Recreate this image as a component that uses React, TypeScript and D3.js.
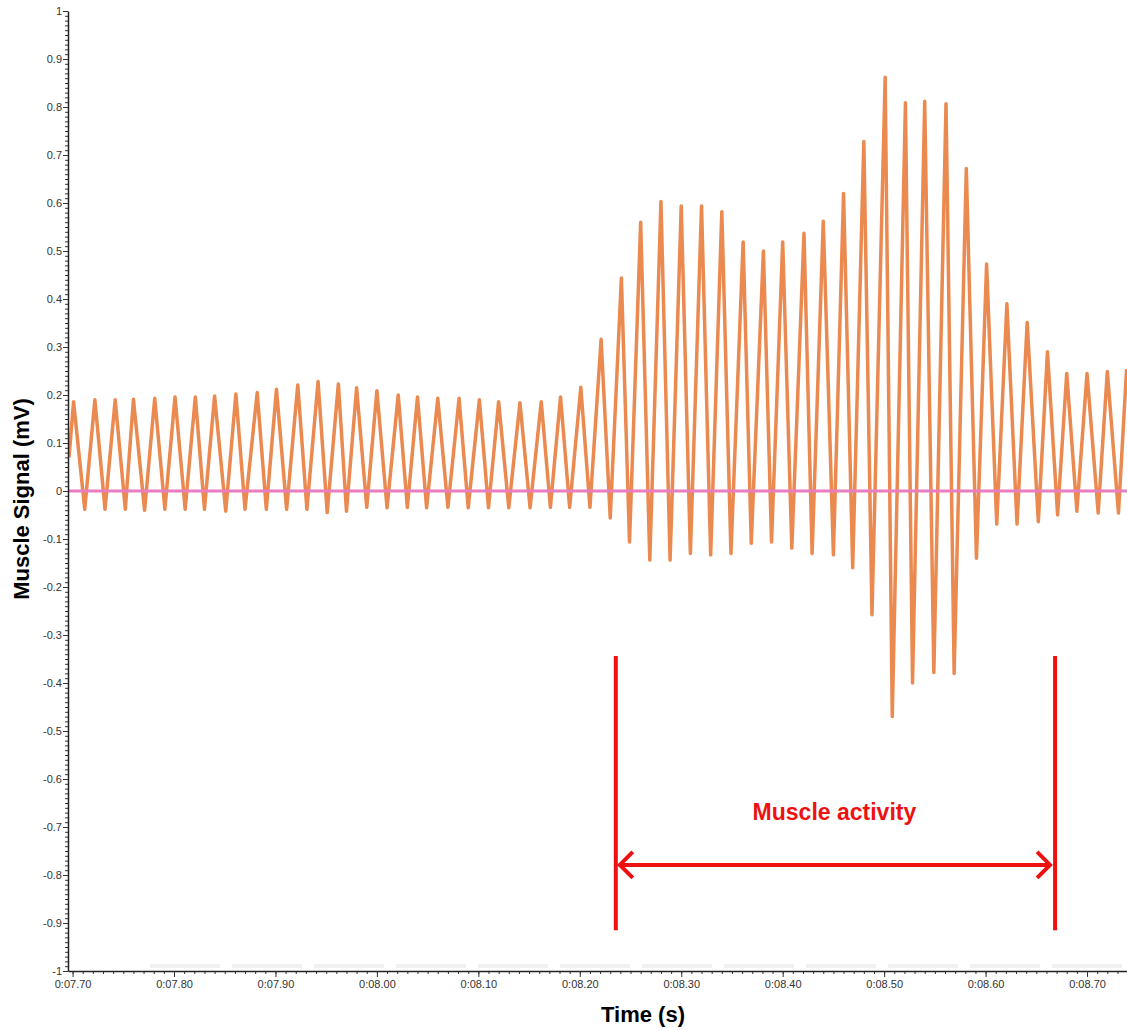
import React, { useEffect, useRef } from 'react';
import * as d3 from 'd3';

const W = 1127;
const H = 1031;

// time of each peak / trough of the trace (s) and its value (mV)
const peakTimes = [
  7.701, 7.722, 7.742, 7.760, 7.781, 7.801, 7.821, 7.840, 7.861, 7.882, 7.901, 7.922, 7.942, 7.962, 7.980,
  8.000, 8.021, 8.040, 8.060, 8.081, 8.101, 8.120, 8.141, 8.162, 8.181,
  8.201, 8.221, 8.241, 8.260, 8.280, 8.300, 8.320, 8.340, 8.361, 8.381,
  8.400, 8.421, 8.440, 8.460, 8.480, 8.501, 8.521, 8.540, 8.561, 8.581,
  8.601, 8.621, 8.641, 8.661, 8.680, 8.700, 8.720, 8.739,
];
const peakValues = [
  0.186, 0.19, 0.19, 0.191, 0.193, 0.196, 0.196, 0.198, 0.202, 0.205, 0.212, 0.221, 0.228, 0.223, 0.215,
  0.209, 0.2, 0.196, 0.193, 0.193, 0.19, 0.186, 0.184, 0.186, 0.196,
  0.216, 0.316, 0.444, 0.56, 0.603, 0.594, 0.594, 0.582, 0.519, 0.5,
  0.519, 0.537, 0.562, 0.62, 0.728, 0.862, 0.809, 0.812, 0.807, 0.672,
  0.473, 0.39, 0.351, 0.29, 0.245, 0.245, 0.249, 0.254,
];
const troughTimes = [
  7.712, 7.732, 7.752, 7.771, 7.791, 7.811, 7.830, 7.851, 7.870, 7.891, 7.911, 7.931, 7.951, 7.970, 7.990,
  8.010, 8.030, 8.049, 8.070, 8.090, 8.110, 8.130, 8.151, 8.171, 8.190,
  8.210, 8.230, 8.249, 8.269, 8.289, 8.309, 8.329, 8.349, 8.369, 8.389,
  8.409, 8.429, 8.450, 8.469, 8.488, 8.508, 8.528, 8.549, 8.569, 8.591,
  8.611, 8.631, 8.652, 8.671, 8.690, 8.711, 8.731,
];
const troughValues = [
  -0.038, -0.038, -0.038, -0.04, -0.038, -0.038, -0.038, -0.042, -0.038, -0.038, -0.038, -0.038, -0.045, -0.042, -0.034,
  -0.035, -0.034, -0.035, -0.034, -0.035, -0.035, -0.035, -0.035, -0.034, -0.034,
  -0.034, -0.056, -0.106, -0.144, -0.144, -0.13, -0.133, -0.13, -0.109, -0.106,
  -0.119, -0.13, -0.133, -0.16, -0.258, -0.47, -0.4, -0.378, -0.38, -0.14,
  -0.069, -0.069, -0.064, -0.05, -0.042, -0.046, -0.046,
];
const traceStart = { t: 7.6965, v: 0.07 };

const xTicks = [7.7, 7.8, 7.9, 8.0, 8.1, 8.2, 8.3, 8.4, 8.5, 8.6, 8.7];
const xTickLabels = ['0:07.70', '0:07.80', '0:07.90', '0:08.00', '0:08.10', '0:08.20', '0:08.30', '0:08.40', '0:08.50', '0:08.60', '0:08.70'];
const yTicks = [1, 0.9, 0.8, 0.7, 0.6, 0.5, 0.4, 0.3, 0.2, 0.1, 0, -0.1, -0.2, -0.3, -0.4, -0.5, -0.6, -0.7, -0.8, -0.9, -1];
const yTickLabels = ['1', '0.9', '0.8', '0.7', '0.6', '0.5', '0.4', '0.3', '0.2', '0.1', '0', '-0.1', '-0.2', '-0.3', '-0.4', '-0.5', '-0.6', '-0.7', '-0.8', '-0.9', '-1'];

// "Muscle activity" bracket, in data units
const activityStart = 8.2355;
const activityEnd = 8.6685;
const bracketTop = -0.344;
const bracketBottom = -0.915;
const arrowLevel = -0.779;
const labelLevel = -0.685;

const FONT = 'Arial, "Liberation Sans", sans-serif';

export default function App() {
  const ref = useRef<SVGSVGElement>(null);

  useEffect(() => {
    const svg = d3.select(ref.current);
    svg.selectAll('*').remove();

    const x = d3.scaleLinear().domain([7.6955, 8.7394]).range([68, 1127]);
    const y = d3.scaleLinear().domain([-1, 1]).range([971, 11]);

    svg.append('rect').attr('width', W).attr('height', H).attr('fill', '#fff');

    // faint ghost band just above the time axis
    svg.append('line')
      .attr('x1', 150).attr('x2', 1127).attr('y1', 966).attr('y2', 966)
      .attr('stroke', '#f1f1f1').attr('stroke-width', 4).attr('stroke-dasharray', '70,12');

    svg.append('clipPath').attr('id', 'plot')
      .append('rect').attr('x', 68).attr('y', 0).attr('width', 1127 - 68).attr('height', 971);

    const pts = [{ t: traceStart.t, v: traceStart.v }]
      .concat(peakTimes.map((t, i) => ({ t, v: peakValues[i] })))
      .concat(troughTimes.map((t, i) => ({ t, v: troughValues[i] })))
      .sort((a, b) => a.t - b.t);

    const line = d3.line<{ t: number; v: number }>()
      .x(d => x(d.t))
      .y(d => y(d.v));

    const plot = svg.append('g').attr('clip-path', 'url(#plot)');
    plot.append('path')
      .attr('d', line(pts))
      .attr('fill', 'none')
      .attr('stroke', '#eb8a50')
      .attr('stroke-width', 3.5)
      .attr('stroke-linejoin', 'round');

    // zero line
    plot.append('line')
      .attr('x1', 68).attr('x2', 1127).attr('y1', y(0)).attr('y2', y(0))
      .attr('stroke', '#ea7dbf').attr('stroke-width', 3);

    // y axis
    const yMinor = svg.append('g').attr('transform', 'translate(68,0)')
      .call(d3.axisLeft(y).tickValues(d3.range(-100, 101).map(i => i / 100)).tickSize(3).tickFormat(() => ''));
    yMinor.select('.domain').remove();
    yMinor.selectAll('line').attr('stroke', '#333');

    const yAxis = svg.append('g').attr('transform', 'translate(68,0)')
      .call(d3.axisLeft(y).tickValues(yTicks).tickSize(5).tickSizeOuter(0).tickPadding(1)
        .tickFormat((d, i) => yTickLabels[i]));
    yAxis.select('.domain').attr('stroke', '#222').attr('stroke-width', 1.5);
    yAxis.selectAll('line').attr('stroke', '#333');
    yAxis.selectAll('text').attr('font-family', FONT).attr('font-size', 11).attr('fill', '#333');

    // x axis
    const xMinor = svg.append('g').attr('transform', 'translate(0,971)')
      .call(d3.axisBottom(x).tickValues(d3.range(770, 874).map(i => i / 100)).tickSize(3).tickFormat(() => ''));
    xMinor.select('.domain').remove();
    xMinor.selectAll('line').attr('stroke', '#333');

    const xAxis = svg.append('g').attr('transform', 'translate(0,971)')
      .call(d3.axisBottom(x).tickValues(xTicks).tickSize(6).tickSizeOuter(0).tickPadding(3)
        .tickFormat((d, i) => xTickLabels[i]));
    xAxis.select('.domain').attr('stroke', '#222').attr('stroke-width', 1.5);
    xAxis.selectAll('line').attr('stroke', '#333');
    xAxis.selectAll('text').attr('font-family', FONT).attr('font-size', 11).attr('fill', '#333');

    // axis titles
    svg.append('text')
      .attr('transform', 'translate(29,499) rotate(-90)')
      .attr('text-anchor', 'middle')
      .attr('font-family', FONT).attr('font-weight', 'bold').attr('font-size', 22)
      .text('Muscle Signal (mV)');
    svg.append('text')
      .attr('x', 643).attr('y', 1022)
      .attr('text-anchor', 'middle')
      .attr('font-family', FONT).attr('font-weight', 'bold').attr('font-size', 22)
      .text('Time (s)');

    // muscle activity bracket
    const red = '#ee1111';
    const ann = svg.append('g').attr('stroke', red).attr('stroke-width', 4).attr('fill', 'none');
    [activityStart, activityEnd].forEach(t => {
      ann.append('line')
        .attr('x1', x(t)).attr('x2', x(t)).attr('y1', y(bracketTop)).attr('y2', y(bracketBottom));
    });
    const ax0 = x(activityStart) + 4;
    const ax1 = x(activityEnd) - 5;
    const ay = y(arrowLevel);
    ann.append('line').attr('x1', ax0).attr('x2', ax1).attr('y1', ay).attr('y2', ay);
    ann.append('path').attr('d', `M${ax0 + 13},${ay - 13}L${ax0},${ay}L${ax0 + 13},${ay + 13}`);
    ann.append('path').attr('d', `M${ax1 - 13},${ay - 13}L${ax1},${ay}L${ax1 - 13},${ay + 13}`);

    svg.append('text')
      .attr('x', x((activityStart + activityEnd) / 2) - 1).attr('y', y(labelLevel))
      .attr('text-anchor', 'middle')
      .attr('font-family', FONT).attr('font-weight', 'bold').attr('font-size', 23)
      .attr('fill', red)
      .text('Muscle activity');
  }, []);

  return (
    <div style={{ position: 'absolute', left: 0, top: 0 }}>
      <svg ref={ref} width={W} height={H} style={{ display: 'block' }} />
    </div>
  );
}
